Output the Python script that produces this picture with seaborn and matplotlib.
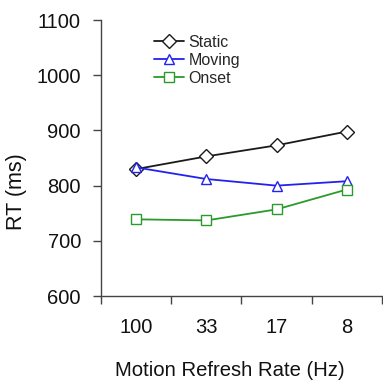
import matplotlib
matplotlib.use("Agg")
import matplotlib.pyplot as plt
import pandas as pd
import seaborn as sns

rates = ["100", "33", "17", "8"]
static_rt = [830, 853, 873, 898]
moving_rt = [833, 812, 800, 808]
onset_rt = [739, 737, 757, 793]

series = {"Static": static_rt, "Moving": moving_rt, "Onset": onset_rt}
colors = {"Static": "#1a1a1a", "Moving": "#2222ee", "Onset": "#2a9a2a"}
markers = {"Static": "D", "Moving": "^", "Onset": "s"}
msizes = {"Static": 7, "Moving": 7.5, "Onset": 7}

sns.set_style("white")
plt.rcParams["font.family"] = ["Liberation Sans", "DejaVu Sans"]

fig = plt.figure(figsize=(3.83, 3.85), dpi=100)
ax = fig.add_axes([0.264, 0.231, 0.733, 0.717])

for name, vals in series.items():
    df = pd.DataFrame({"rate": rates, "rt": vals})
    sns.lineplot(
        data=df, x="rate", y="rt", ax=ax, label=name,
        color=colors[name], marker=markers[name], markersize=msizes[name],
        markerfacecolor="white", markeredgecolor=colors[name],
        markeredgewidth=1.0, linewidth=1.3,
    )

ax.set_xlim(-0.5, 3.5)
ax.set_ylim(600, 1100)
ax.set_yticks([600, 700, 800, 900, 1000, 1100])
ax.set_xticks([-0.5, 0.5, 1.5, 2.5, 3.5])
ax.set_xticklabels([])
ax.set_xticks(range(len(rates)), minor=True)
ax.set_xticklabels(rates, minor=True)
ax.tick_params(axis="x", which="major", bottom=True, direction="out",
               length=6, width=1, color="#444444")
ax.tick_params(axis="x", which="minor", bottom=False, length=0, pad=16,
               labelsize=14.5, labelcolor="#111111")
ax.tick_params(axis="y", left=True, direction="out", length=6, width=1,
               color="#444444", labelsize=14.5, labelcolor="#111111",
               pad=8.5)

for side in ["top", "right"]:
    ax.spines[side].set_visible(False)
for side in ["left", "bottom"]:
    ax.spines[side].set_color("#444444")
    ax.spines[side].set_linewidth(1)

ax.set_xlabel("Motion Refresh Rate (Hz)", fontsize=14.6, color="#111111")
ax.set_ylabel("RT (ms)", fontsize=15.5, color="#111111")
ax.xaxis.set_label_coords(0.459, -0.268)
ax.yaxis.set_label_coords(-0.302, 0.377)
ax.xaxis.label.set_va("center")
ax.yaxis.label.set_va("center")

ax.legend(
    loc="upper left", bbox_to_anchor=(0.166, 0.97), frameon=False,
    fontsize=11.5, handlelength=1.85, handletextpad=0.3,
    labelspacing=0.2, borderaxespad=0,
)

fig.savefig("out.png", dpi=100)
